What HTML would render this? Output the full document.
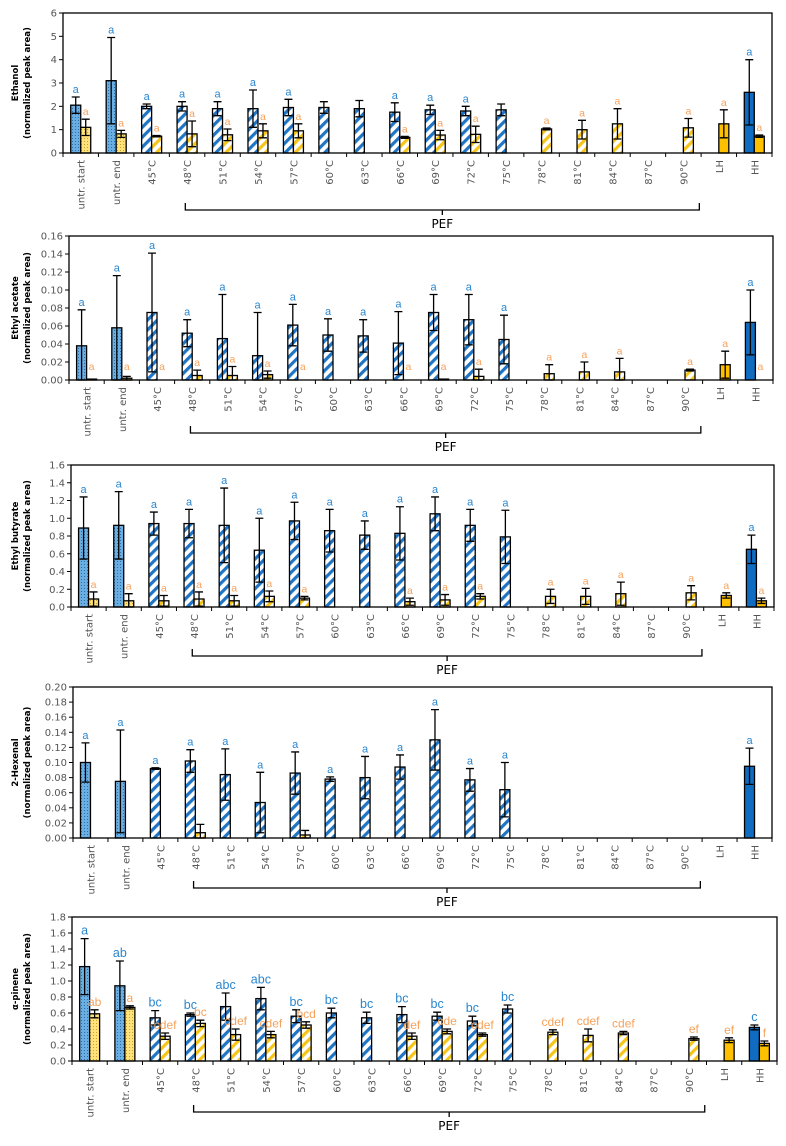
<!DOCTYPE html>
<html><head><meta charset="utf-8"><style>
html,body{margin:0;padding:0;background:#fff;}
svg{display:block;font-family:"Liberation Sans",Arial,sans-serif;}
</style></head><body>
<svg id="chart" width="786" height="1146" viewBox="0 0 786 1146" xmlns="http://www.w3.org/2000/svg">
<defs>
<pattern id="pBlueStripe" patternUnits="userSpaceOnUse" width="7" height="7" patternTransform="rotate(45)"><rect width="7" height="7" fill="#fff"/><rect width="3.2" height="7" fill="#1f74c4"/></pattern>
<pattern id="pYellowStripe" patternUnits="userSpaceOnUse" width="7" height="7" patternTransform="rotate(45)"><rect width="7" height="7" fill="#fff"/><rect width="3.2" height="7" fill="#f5c518"/></pattern>
<pattern id="pBlueDot" patternUnits="userSpaceOnUse" width="3" height="3"><rect width="3" height="3" fill="#6aaee2"/><rect width="1" height="1" fill="#2a6fae"/></pattern>
<pattern id="pYellowDot" patternUnits="userSpaceOnUse" width="3" height="3"><rect width="3" height="3" fill="#ffe27a"/><rect width="1" height="1" fill="#c9a12a"/></pattern>
</defs>
</svg>
<script>
const categories = ["untr. start","untr. end","45\u00b0C","48\u00b0C","51\u00b0C","54\u00b0C","57\u00b0C","60\u00b0C","63\u00b0C","66\u00b0C","69\u00b0C","72\u00b0C","75\u00b0C","78\u00b0C","81\u00b0C","84\u00b0C","87\u00b0C","90\u00b0C","LH","HH"];

const ethanolBlue = [2.05,3.1,2.0,2.0,1.9,1.9,1.95,1.95,1.9,1.75,1.85,1.8,1.85,null,null,null,null,null,null,2.6];
const ethanolBlueErr = [0.35,1.85,0.1,0.2,0.3,0.8,0.35,0.25,0.35,0.4,0.2,0.2,0.25,null,null,null,null,null,null,1.4];
const ethanolYellow = [1.1,0.82,0.72,0.82,0.78,0.95,0.95,null,null,0.67,0.77,0.8,null,1.03,1.0,1.25,null,1.08,1.25,0.72];
const ethanolYellowErr = [0.35,0.15,0.03,0.55,0.25,0.3,0.3,null,null,0.04,0.2,0.35,null,0.04,0.4,0.65,null,0.4,0.6,0.05];
const ethanolBlueLetters = ["a","a","a","a","a","a","a","","","a","a","a","","","","","","","","a"];
const ethanolYellowLetters = ["a","a","a","a","a","a","a","","","a","a","a","","a","a","a","","a","a","a"];

const acetateBlue = [0.038,0.058,0.075,0.052,0.046,0.027,0.061,0.05,0.049,0.041,0.075,0.067,0.045,null,null,null,null,null,null,0.064];
const acetateBlueErr = [0.04,0.058,0.066,0.015,0.049,0.048,0.023,0.018,0.018,0.035,0.02,0.028,0.027,null,null,null,null,null,null,0.036];
const acetateYellow = [0.001,0.002,0,0.005,0.005,0.006,0,null,null,0,0.001,0.004,null,0.007,0.009,0.009,null,0.011,0.017,0];
const acetateYellowErr = [0,0.002,0,0.006,0.01,0.004,0,null,null,0,0,0.008,null,0.01,0.011,0.015,null,0.001,0.015,0];
const acetateBlueLetters = ["a","a","a","a","a","a","a","a","a","a","a","a","a","","","","","","","a"];
const acetateYellowLetters = ["a","a","a","a","a","a","a","","","a","a","a","","a","a","a","","a","a","a"];

const butyrateBlue = [0.89,0.92,0.94,0.94,0.92,0.64,0.97,0.86,0.81,0.83,1.05,0.92,0.79,null,null,null,null,null,null,0.65];
const butyrateBlueErr = [0.35,0.38,0.13,0.16,0.42,0.36,0.21,0.24,0.16,0.3,0.19,0.18,0.3,null,null,null,null,null,null,0.16];
const butyrateYellow = [0.09,0.07,0.07,0.09,0.07,0.12,0.1,null,null,0.06,0.08,0.12,null,0.12,0.12,0.15,null,0.16,0.13,0.07];
const butyrateYellowErr = [0.08,0.08,0.06,0.08,0.06,0.06,0.02,null,null,0.04,0.06,0.03,null,0.08,0.09,0.13,null,0.08,0.03,0.03];
const butyrateBlueLetters = ["a","a","a","a","a","a","a","a","a","a","a","a","a","","","","","","","a"];
const butyrateYellowLetters = ["a","a","a","a","a","a","a","","","a","a","a","","a","a","a","","a","a","a"];

const hexenalBlue = [0.1,0.075,0.092,0.102,0.084,0.047,0.086,0.078,0.08,0.094,0.13,0.077,0.064,null,null,null,null,null,null,0.095];
const hexenalBlueErr = [0.026,0.068,0.001,0.015,0.034,0.04,0.028,0.003,0.028,0.016,0.04,0.015,0.036,null,null,null,null,null,null,0.024];
const hexenalYellow = [null,null,null,0.007,null,null,0.004,null,null,null,null,null,null,null,null,null,null,null,null,null];
const hexenalYellowErr = [null,null,null,0.011,null,null,0.006,null,null,null,null,null,null,null,null,null,null,null,null,null];
const hexenalBlueLetters = ["a","a","a","a","a","a","a","a","a","a","a","a","a","","","","","","","a"];
const hexenalYellowLetters = ["","","","","","","","","","","","","","","","","","","",""];

const pineneBlue = [1.18,0.94,0.54,0.58,0.68,0.78,0.56,0.6,0.54,0.58,0.56,0.5,0.65,null,null,null,null,null,null,0.42];
const pineneBlueErr = [0.35,0.31,0.09,0.02,0.17,0.14,0.08,0.06,0.07,0.1,0.05,0.06,0.05,null,null,null,null,null,null,0.03];
const pineneYellow = [0.59,0.67,0.31,0.47,0.33,0.33,0.45,null,null,0.31,0.37,0.33,null,0.36,0.32,0.35,null,0.28,0.26,0.22];
const pineneYellowErr = [0.05,0.02,0.04,0.04,0.07,0.04,0.04,null,null,0.04,0.03,0.02,null,0.03,0.08,0.02,null,0.02,0.03,0.03];
const pineneBlueLetters = ["a","ab","bc","bc","abc","abc","bc","bc","bc","bc","bc","bc","bc","","","","","","","c"];
const pineneYellowLetters = ["ab","a","cdef","bc","cdef","cdef","bcd","","","def","cde","cdef","","cdef","cdef","cdef","","ef","ef","f"];

const yTicks1 = ["0","1","2","3","4","5","6"];
const yTicks2 = ["0.00","0.02","0.04","0.06","0.08","0.10","0.12","0.14","0.16"];
const yTicks3 = ["0.0","0.2","0.4","0.6","0.8","1.0","1.2","1.4","1.6"];
const yTicks4 = ["0.00","0.02","0.04","0.06","0.08","0.10","0.12","0.14","0.16","0.18","0.20"];
const yTicks5 = ["0.0","0.2","0.4","0.6","0.8","1.0","1.2","1.4","1.6","1.8"];

const svg = document.getElementById('chart');
const NS = 'http://www.w3.org/2000/svg';
const TICKFONT = '"DejaVu Sans","Liberation Sans",sans-serif';
function mk(tag, attrs, parent){const e=document.createElementNS(NS,tag);for(const k in attrs)e.setAttribute(k,attrs[k]);(parent||svg).appendChild(e);return e;}

const panels = [
 {key:'ethanol',title:'Ethanol',L:63,R:772,T:13,B:153,ticks:yTicks1,blue:ethanolBlue,be:ethanolBlueErr,yel:ethanolYellow,ye:ethanolYellowErr,bl:ethanolBlueLetters,yl:ethanolYellowLetters,brY:210,fs:11},
 {key:'ethyl-acetate',title:'Ethyl acetate',L:69,R:773,T:236,B:380,ticks:yTicks2,blue:acetateBlue,be:acetateBlueErr,yel:acetateYellow,ye:acetateYellowErr,bl:acetateBlueLetters,yl:acetateYellowLetters,brY:433,fs:11},
 {key:'ethyl-butyrate',title:'Ethyl butyrate',L:71,R:774,T:465,B:607,ticks:yTicks3,blue:butyrateBlue,be:butyrateBlueErr,yel:butyrateYellow,ye:butyrateYellowErr,bl:butyrateBlueLetters,yl:butyrateYellowLetters,brY:656,fs:11},
 {key:'hexenal',title:'2-Hexenal',L:73,R:772,T:687,B:838,ticks:yTicks4,blue:hexenalBlue,be:hexenalBlueErr,yel:hexenalYellow,ye:hexenalYellowErr,bl:hexenalBlueLetters,yl:hexenalYellowLetters,brY:888,fs:11},
 {key:'alpha-pinene',title:'\u03b1-pinene',L:72,R:777,T:917,B:1061,ticks:yTicks5,blue:pineneBlue,be:pineneBlueErr,yel:pineneYellow,ye:pineneYellowErr,bl:pineneBlueLetters,yl:pineneYellowLetters,brY:1112,fs:12.5}
];

panels.forEach(p=>{
  const g=mk('g',{});
  
  
  const n=categories.length, cw=(p.R-p.L)/n;
  const ymax=parseFloat(p.ticks[p.ticks.length-1]);
  const y=v=>p.B-v/ymax*(p.B-p.T);
  const cx=i=>p.L+(i+0.5)*cw;
  p.ticks.forEach(t=>{
    const yy=y(parseFloat(t));
    const ln=mk('line',{x1:p.L-4,x2:p.L,y1:yy,y2:yy,stroke:'#000','stroke-width':1},g);
    
    
    const tx=mk('text',{x:p.L-6,y:yy+3.5,'text-anchor':'end','font-size':10,fill:'#555','font-family':TICKFONT},g);
    tx.textContent=t;
    
    
  });
  const midY=(p.T+p.B)/2;
  const t1=mk('text',{x:0,y:0,transform:`translate(18,${midY}) rotate(-90)`,'text-anchor':'middle','font-size':8.5,'font-weight':'bold',fill:'#000','font-family':TICKFONT},g);
  t1.textContent=p.title;
  
  
  const t2=mk('text',{x:0,y:0,transform:`translate(30,${midY}) rotate(-90)`,'text-anchor':'middle','font-size':8.5,'font-weight':'bold',fill:'#000','font-family':TICKFONT},g);
  t2.textContent='(normalized peak area)';
  
  
  const bw=10;
  function bar(i,v,e,isBlue,letter){
    if(v===null||v===undefined) return;
    const fill = i<2 ? (isBlue?'url(#pBlueDot)':'url(#pYellowDot)') : (i>=18 ? (isBlue?'#0f6cc0':'#ffc000') : (isBlue?'url(#pBlueStripe)':'url(#pYellowStripe)'));
    const x0 = isBlue? cx(i)-bw : cx(i);
    const top=y(v);
    const r=mk('rect',{x:x0,y:top,width:bw,height:Math.max(p.B-top,0),fill:fill,stroke:'#000','stroke-width':1.3},g);
    
    
    const bc=x0+bw/2;
    let ytop=top;
    if(e!==null&&e!==undefined&&e>0){
      const yt=y(v+e), yb=y(Math.max(v-e,0));
      ytop=yt;
      const eb=mk('path',{d:`M${bc},${yt}V${yb}M${bc-4},${yt}H${bc+4}M${bc-4},${yb}H${bc+4}`,stroke:'#000','stroke-width':1.3,fill:'none'},g);
      
      
    }
    if(letter){
      const ly=Math.min(ytop-4,p.B-10);
      const lt=mk('text',{x:bc,y:ly,'text-anchor':'middle','font-size':isBlue?p.fs:(p.fs-0.5),fill:isBlue?'#2a86cf':'#f5a25c'},g);
      lt.textContent=letter;
      
      
    }
  }
  categories.forEach((c,i)=>{
    bar(i,p.blue[i],p.be[i],true,p.bl[i]);
    bar(i,p.yel[i],p.ye[i],false,p.yl[i]);
  });
  const fr=mk('rect',{x:p.L,y:p.T,width:p.R-p.L,height:p.B-p.T,fill:'none',stroke:'#000','stroke-width':1.3},g);
  
  
  for(let i=0;i<=n;i++){
    const xx=p.L+i*cw;
    const tk=mk('line',{x1:xx,x2:xx,y1:p.B,y2:p.B+4,stroke:'#000','stroke-width':1},g);
    
    
  }
  categories.forEach((c,i)=>{
    const tx=mk('text',{x:0,y:0,transform:`translate(${cx(i)+4},${p.B+7}) rotate(-90)`,'text-anchor':'end','font-size':10,fill:'#555','font-family':TICKFONT},g);
    tx.textContent=c;
    
    
  });
  const bx0=p.L+3.45*cw, bx1=p.L+17.95*cw, bm=(bx0+bx1)/2;
  const br=mk('path',{d:`M${bx0},${p.brY-7}V${p.brY}H${bx1}V${p.brY-7}M${bm},${p.brY}V${p.brY+5}`,stroke:'#000','stroke-width':1.3,fill:'none'},g);
  
  
  const pl=mk('text',{x:bm,y:p.brY+18,'text-anchor':'middle','font-size':12,fill:'#000','font-family':TICKFONT},g);
  pl.textContent='PEF';
  
  
});
</script>
</body></html>
